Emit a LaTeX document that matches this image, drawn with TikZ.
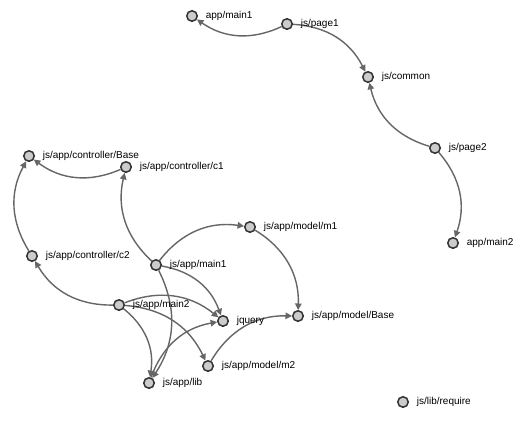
\documentclass[tikz,border=0pt]{standalone}
\usepackage{fontspec}
\setmainfont{Liberation Sans}
\usetikzlibrary{arrows.meta}
\definecolor{nodefill}{HTML}{CCCCCC}
\definecolor{nodeline}{HTML}{333333}
\definecolor{linkline}{HTML}{666666}
\pgfdeclarelayer{bg}
\pgfdeclarelayer{edges}
\pgfsetlayers{bg,edges,main}
\begin{document}
\begin{tikzpicture}[x=1pt,y=-1pt,
  dep/.style={circle,fill=nodefill,draw=nodeline,line width=1.5pt,minimum size=10.5pt,inner sep=0pt,
    label={[font=\fontsize{10}{12}\selectfont,label distance=4.3pt,text=black]right:#1}},
  link/.style={draw=linkline,line width=1.4pt,-{Triangle[length=6.5pt,width=6.5pt]},bend left=30}]
\begin{pgfonlayer}{bg}
\useasboundingbox[fill=white] (0,0) rectangle (530,426);
\end{pgfonlayer}
\node[dep={app/main1}] (am1) at (192,16) {};
\node[dep={js/page1}] (pg1) at (287,24) {};
\node[dep={js/common}] (com) at (368,77) {};
\node[dep={js/page2}] (pg2) at (435,148) {};
\node[dep={app/main2}] (am2) at (453,243) {};
\node[dep={js/app/controller/Base}] (cb) at (29,156) {};
\node[dep={js/app/controller/c1}] (c1) at (126,167) {};
\node[dep={js/app/controller/c2}] (c2) at (32,256) {};
\node[dep={js/app/main1}] (m1) at (156,265) {};
\node[dep={js/app/model/m1}] (mm1) at (250,227) {};
\node[dep={js/app/main2}] (m2) at (119,305) {};
\node[dep={jquery}] (jq) at (223,321) {};
\node[dep={js/app/model/Base}] (mb) at (298,316) {};
\node[dep={js/app/model/m2}] (mm2) at (208,366) {};
\node[dep={js/app/lib}] (lib) at (149,383) {};
\node[dep={js/lib/require}] (req) at (403,402) {};
\begin{pgfonlayer}{edges}
\draw[link] (pg1) to (am1);
\draw[link] (pg1) to (com);
\draw[link] (pg2) to (com);
\draw[link] (pg2) to (am2);
\draw[link] (c1) to (cb);
\draw[link] (c2) to (cb);
\draw[link] (m1) to (c1);
\draw[link] (m1) to (mm1);
\draw[link] (m1) to (jq);
\draw[link] (m1) to (lib);
\draw[link] (m2) to (c2);
\draw[link] (m2) to (jq);
\draw[link] (m2) to (lib);
\draw[link] (m2) to (mm2);
\draw[link] (mm1) to (mb);
\draw[link] (mm2) to (mb);
\draw[link] (lib) to (jq);
\end{pgfonlayer}
\end{tikzpicture}
\end{document}
